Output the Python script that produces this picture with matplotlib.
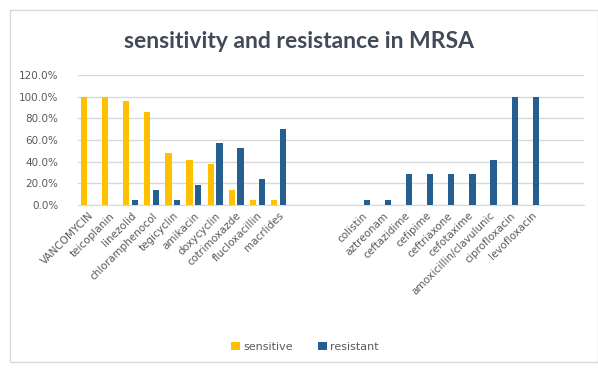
import matplotlib
matplotlib.use("Agg")
import matplotlib.pyplot as plt
import numpy as np
from matplotlib.patches import Rectangle
from matplotlib.ticker import FuncFormatter, MultipleLocator

categories = ["VANCOMYCIN", "teicoplanin", "linezolid", "chloramphenocol", "tegicyclin",
              "amikacin", "doxycyclin", "cotrimoxazde", "flucloxacillin", "macrlides",
              "", "", "",
              "colistin", "aztreonam", "ceftazidime", "cefipime", "ceftriaxone",
              "cefotaxime", "amoxicillin/clavulunic", "ciprofloxacin", "levofloxacin",
              "", ""]
sensitive = [1.00, 1.00, 0.96, 0.855, 0.48, 0.42, 0.375, 0.14, 0.05, 0.05,
             0, 0, 0,
             0, 0, 0, 0, 0, 0, 0, 0, 0,
             0, 0]
resistant = [0, 0, 0.05, 0.14, 0.05, 0.185, 0.57, 0.525, 0.243, 0.705,
             0, 0, 0,
             0.045, 0.045, 0.285, 0.285, 0.285, 0.285, 0.42, 1.00, 1.00,
             0, 0]

W, H = 598, 368
fig = plt.figure(figsize=(W / 100, H / 100), dpi=100)
fig.patch.set_facecolor("white")

# outer chart border
fig.patches.append(Rectangle((10 / W, 6 / H), 1 - 10 / W, 1 - 16 / H, transform=fig.transFigure,
                             fill=False, edgecolor="#D9D9D9", linewidth=1.0))

ax = fig.add_axes([78 / W, 1 - 205 / H, (584 - 78) / W, (205 - 75) / H])
x = np.arange(len(categories))
bw = 0.29
off = 0.21
ax.bar(x - off, sensitive, width=bw, color="#FFC000", zorder=3, label="sensitive")
ax.bar(x + off, resistant, width=bw, color="#255E91", zorder=3, label="resistant")

ax.set_xlim(-0.5, len(categories) - 0.5)
ax.set_ylim(0, 1.2)
ax.yaxis.set_major_locator(MultipleLocator(0.2))
ax.yaxis.set_major_formatter(FuncFormatter(lambda v, p: f"{v * 100:.1f}%"))
ax.grid(axis="y", color="#D9D9D9", linewidth=1.0, zorder=0)
for s in ["top", "right", "left"]:
    ax.spines[s].set_visible(False)
ax.spines["bottom"].set_color("#D9D9D9")
ax.tick_params(axis="both", length=0, labelsize=7.5, colors="#595959")
ax.tick_params(axis="y", pad=14)
ax.set_xticks(x)
ax.set_xticklabels(categories, rotation=45, ha="right", rotation_mode="anchor",
                   fontsize=7.5, color="#595959")
ax.tick_params(axis="x", pad=4)

fig.text(0.5, 1 - 42 / H, "sensitivity and resistance in MRSA", ha="center", va="center",
         fontsize=16.5, fontweight="bold", color="#404A59", family="Lato")

leg = fig.legend(loc="center", bbox_to_anchor=(0.51, 1 - 347 / H), ncol=2, frameon=False,
                 fontsize=8, handlelength=0.8, handleheight=0.8, handletextpad=0.3,
                 columnspacing=2.2, labelcolor="#595959")

fig.savefig("out.png", dpi=100, facecolor="white")
